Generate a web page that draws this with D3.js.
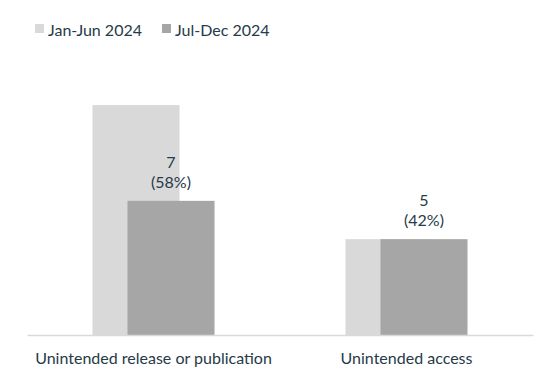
<!DOCTYPE html>
<html>
<head>
<meta charset="utf-8">
<script src="https://cdn.jsdelivr.net/npm/d3@7"></script>
<style>
  body { margin: 0; background: #fff; }
  text { font-family: Lato, "Open Sans", sans-serif; fill: #263a48; }
</style>
</head>
<body>
<div id="chart"></div>
<script>
// categories and series
var categories = ["Unintended release or publication", "Unintended access"];
var seriesNames = ["Jan-Jun 2024", "Jul-Dec 2024"];
var janJun = [12, 5];
var julDec = [7, 5];
var julDecPct = ["58%", "42%"];

var colours = ["#d9d9d9", "#a6a6a6"];

var width = 543, height = 373;
var margin = { top: 60, right: 10, bottom: 38, left: 27 };

var svg = d3.select("#chart")
    .append("svg")
    .attr("width", width)
    .attr("height", height);

// -- scales --
var x = d3.scaleBand()
    .domain(categories)
    .range([margin.left, 533])
    .padding(0);

var y = d3.scaleLinear()
    .domain([0, 12])
    .range([335, 105]);

var barW = 87, offset = 35;

// Jan-Jun bars (behind)
svg.selectAll(".bar-a")
    .data(categories)
    .enter()
    .append("rect")
    .attr("class", "bar-a")
    .attr("x", function(d) { return x(d) + x.bandwidth() / 2 - (barW + offset) / 2; })
    .attr("y", function(d, i) { return y(janJun[i]); })
    .attr("width", barW)
    .attr("height", function(d, i) { return y(0) - y(janJun[i]); })
    .attr("fill", colours[0]);

// Jul-Dec bars (front, shifted right)
svg.selectAll(".bar-b")
    .data(categories)
    .enter()
    .append("rect")
    .attr("class", "bar-b")
    .attr("x", function(d) { return x(d) + x.bandwidth() / 2 - (barW + offset) / 2 + offset; })
    .attr("y", function(d, i) { return y(julDec[i]); })
    .attr("width", barW)
    .attr("height", function(d, i) { return y(0) - y(julDec[i]); })
    .attr("fill", colours[1]);

// value labels on Jul-Dec
var lbl = svg.selectAll(".val")
    .data(categories)
    .enter()
    .append("text")
    .attr("class", "val")
    .attr("text-anchor", "middle")
    .attr("font-size", 16);

lbl.append("tspan")
    .attr("x", function(d) { return x(d) + x.bandwidth() / 2 - (barW + offset) / 2 + offset + barW / 2; })
    .attr("y", function(d, i) { return y(julDec[i]) - 33; })
    .text(function(d, i) { return julDec[i]; });

lbl.append("tspan")
    .attr("x", function(d) { return x(d) + x.bandwidth() / 2 - (barW + offset) / 2 + offset + barW / 2; })
    .attr("y", function(d, i) { return y(julDec[i]) - 13; })
    .text(function(d, i) { return "(" + julDecPct[i] + ")"; });

// x axis
var xAxis = svg.append("g")
    .attr("transform", "translate(0," + y(0) + ")")
    .call(d3.axisBottom(x).tickSize(0).tickPadding(18));

xAxis.select(".domain").attr("stroke", "#d9d9d9").attr("stroke-width", 1.5);
xAxis.selectAll("text")
    .attr("font-size", 16)
    .style("font-family", "Lato, sans-serif")
    .attr("fill", "#263a48");

// legend
var legendX = [35, 162];
var legend = svg.selectAll(".legend")
    .data(seriesNames)
    .enter()
    .append("g")
    .attr("class", "legend")
    .attr("transform", function(d, i) { return "translate(" + legendX[i] + ",24)"; });

legend.append("rect")
    .attr("width", 9)
    .attr("height", 9)
    .attr("fill", function(d, i) { return colours[i]; });

legend.append("text")
    .attr("x", 13)
    .attr("y", 12)
    .attr("font-size", 16)
    .text(function(d) { return d; });
</script>
</body>
</html>
